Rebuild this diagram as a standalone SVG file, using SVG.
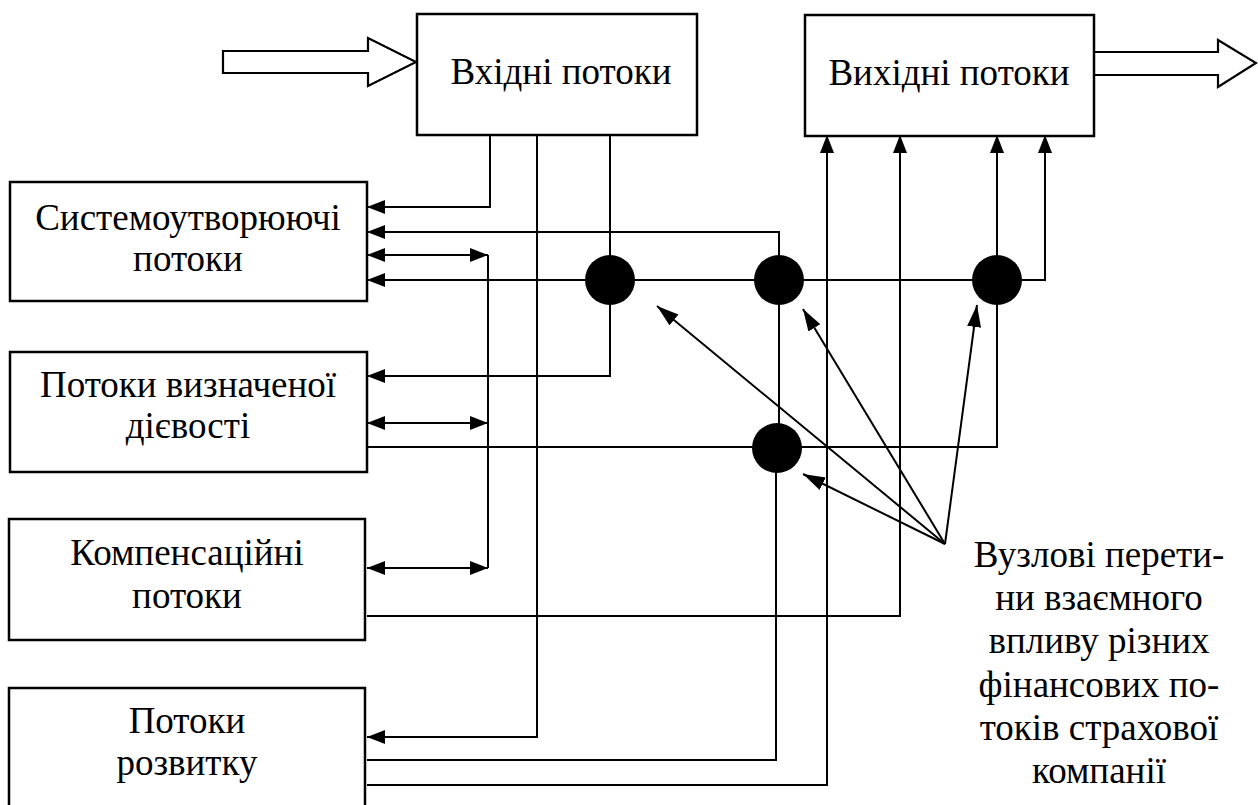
<svg xmlns="http://www.w3.org/2000/svg" width="1258" height="805" viewBox="0 0 1258 805">
<style>
.box{fill:#fff;stroke:#000;stroke-width:2.5}
.t{font-size:37px;fill:#000;text-anchor:middle}
.ln{fill:none;stroke:#000;stroke-width:2}
.big{fill:#fff;stroke:#000;stroke-width:2.2;stroke-linejoin:miter}
.dot{fill:#000}
</style>
<defs>
<marker id="ah" markerUnits="userSpaceOnUse" markerWidth="18" markerHeight="15" refX="18" refY="7" orient="auto-start-reverse" viewBox="0 0 18 14">
<path d="M0,0 L18,7 L0,14 z" fill="#000"/>
</marker>
<marker id="ap" markerUnits="userSpaceOnUse" markerWidth="22" markerHeight="15" refX="22" refY="7" orient="auto" viewBox="0 0 22 14">
<path d="M0,0 L22,7 L0,14 z" fill="#000"/>
</marker>
</defs>

<g id="input-arrow"><path class="big" d="M223,51 L368,51 L368,38 L416,62 L368,86 L368,73 L223,73 Z"/></g>
<g id="output-arrow"><path class="big" d="M1094,52 L1218,52 L1218,40 L1256,63 L1218,87 L1218,75 L1094,75"/></g>

<g id="connectors">
<polyline class="ln" points="490,135 490,207 367,207" marker-end="url(#ah)"/>
<polyline class="ln" points="537,135 537,737 367,737" marker-end="url(#ah)"/>
<polyline class="ln" points="610,135 610,376 367,376" marker-end="url(#ah)"/>
<polyline class="ln" points="779,280 779,232 367,232" marker-end="url(#ah)"/>
<polyline class="ln" points="367,280 1045,280 1045,135" marker-start="url(#ah)" marker-end="url(#ah)"/>
<polyline class="ln" points="488,255 488,568"/>
<line class="ln" x1="367" y1="255" x2="488" y2="255" marker-start="url(#ah)" marker-end="url(#ah)"/>
<line class="ln" x1="367" y1="423" x2="488" y2="423" marker-start="url(#ah)" marker-end="url(#ah)"/>
<line class="ln" x1="367" y1="568" x2="488" y2="568" marker-start="url(#ah)" marker-end="url(#ah)"/>
<polyline class="ln" points="367,447 997,447 997,135" marker-end="url(#ah)"/>
<polyline class="ln" points="779,280 779,447"/>
<polyline class="ln" points="367,760 776,760 776,447"/>
<polyline class="ln" points="367,785 827,785 827,135" marker-end="url(#ah)"/>
<polyline class="ln" points="367,616 900,616 900,135" marker-end="url(#ah)"/>
<line class="ln" x1="945" y1="544" x2="657" y2="306" marker-end="url(#ap)"/>
<line class="ln" x1="945" y1="544" x2="803" y2="309" marker-end="url(#ap)"/>
<line class="ln" x1="945" y1="544" x2="977" y2="305" marker-end="url(#ap)"/>
<line class="ln" x1="945" y1="544" x2="803" y2="474" marker-end="url(#ap)"/>
</g>

<g font-family="Liberation Serif, Times New Roman, DejaVu Serif, serif">
<g id="node-in"><rect class="box" x="417" y="14" width="280" height="121"/><text class="t" x="561" y="84">Вхідні потоки</text></g>
<g id="node-out"><rect class="box" x="805" y="15" width="289" height="121"/><text class="t" x="949" y="85">Вихідні потоки</text></g>
<g id="node-sys"><rect class="box" x="10" y="182" width="357" height="119"/><text class="t" x="188" y="230">Системоутворюючі</text><text class="t" x="188" y="271">потоки</text></g>
<g id="node-def"><rect class="box" x="10" y="352" width="357" height="120"/><text class="t" x="188" y="397">Потоки визначеної</text><text class="t" x="188" y="438">дієвості</text></g>
<g id="node-comp"><rect class="box" x="9" y="519" width="356" height="121"/><text class="t" x="187" y="565">Компенсаційні</text><text class="t" x="187" y="608">потоки</text></g>
<g id="node-dev"><rect class="box" x="9" y="688" width="356" height="140"/><text class="t" x="187" y="733">Потоки</text><text class="t" x="187" y="775">розвитку</text></g>

<g id="junctions">
<circle class="dot" cx="610" cy="280" r="25"/>
<circle class="dot" cx="779" cy="280" r="25"/>
<circle class="dot" cx="997" cy="280" r="25"/>
<circle class="dot" cx="777" cy="448" r="25"/>
</g>

<g id="note">
<text class="t" x="1099" y="567">Вузлові перети-</text>
<text class="t" x="1099" y="610">ни взаємного</text>
<text class="t" x="1099" y="653">впливу різних</text>
<text class="t" x="1099" y="697">фінансових по-</text>
<text class="t" x="1099" y="740">токів страхової</text>
<text class="t" x="1099" y="783">компанії</text>
</g>
</g>
</svg>
